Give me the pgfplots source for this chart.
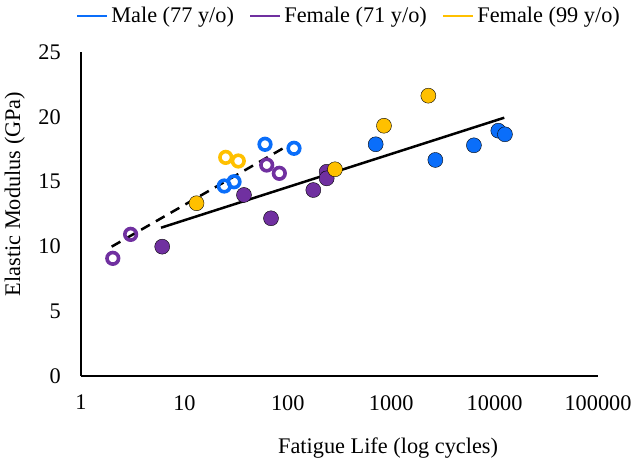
\documentclass[border=0pt]{standalone}
\usepackage{fontspec}
\setmainfont{Liberation Serif}
\usepackage{pgfplots}
\pgfplotsset{compat=1.18}
\definecolor{cblue}{HTML}{0A6EFA}
\definecolor{cpurple}{HTML}{7030A0}
\definecolor{cyellow}{HTML}{FFC000}
\begin{document}
\fontsize{22.3pt}{26pt}\selectfont
\begin{tikzpicture}
\path[use as bounding box] (0,0) rectangle (634pt,461pt);
\begin{axis}[
  at={(81pt,85pt)}, anchor=south west,
  scale only axis, width=517pt, height=324pt,
  xmode=log, xmin=1, xmax=100000, ymin=0, ymax=25,
  axis x line*=bottom, axis y line*=left,
  axis line style={line width=1.4pt, black, -},
  xtick={1,10,100,1000,10000,100000},
  xticklabels={1,10,100,1000,10000,100000},
  ytick={0,5,10,15,20,25},
  major tick length=0pt, minor tick num=0,
  tick style={draw=none},
  /pgf/number format/assume math mode=true,
  xticklabel style={inner sep=0pt, anchor=north, yshift=-19pt},
  yticklabel style={inner sep=0pt, anchor=east, xshift=-20pt},
  xlabel={Fatigue Life (log cycles)},
  ylabel={Elastic Modulus (GPa)},
  xlabel style={at={(axis description cs:0.594,-0.222)}, anchor=center},
  ylabel style={at={(axis description cs:-0.128,0.562)}, anchor=center, rotate=0},
  clip=false,
  legend columns=3,
  legend style={draw=none, fill=none, at={(0.519,1.111)}, anchor=center,
    /tikz/every even column/.append style={column sep=12pt},
    nodes={inner sep=3pt}},
  legend image code/.code={\draw[#1, line width=2.5pt] (0pt,0pt) -- (30pt,0pt);},
]
\addlegendimage{cblue}
\addlegendentry{Male (77 y/o)}
\addlegendimage{cpurple}
\addlegendentry{Female (71 y/o)}
\addlegendimage{cyellow}
\addlegendentry{Female (99 y/o)}

% Male open
\addplot[only marks, mark=o, mark size=5.8pt, mark options={draw=cblue, line width=3.6pt}, forget plot]
  coordinates {(24.3,14.66) (30.2,14.99) (60.2,17.88) (114.8,17.57)};
% Male filled
\addplot[only marks, mark=*, mark size=7.5pt, mark options={draw=none, fill=cblue}, forget plot]
  coordinates {(708,17.88) (2673,16.67) (6310,17.8) (10860,18.93) (12590,18.65)};
% Female 71 open
\addplot[only marks, mark=o, mark size=5.8pt, mark options={draw=cpurple, line width=3.6pt}, forget plot]
  coordinates {(2.03,9.08) (3.02,10.93) (62.5,16.28) (82.8,15.64)};
% Female 71 filled
\addplot[only marks, mark=*, mark size=7.5pt, mark options={draw=none, fill=cpurple}, forget plot]
  coordinates {(6.1,9.98) (37.7,13.97) (68.8,12.17) (176.6,14.35) (237.7,15.76) (237.7,15.25)};
% Female 99 open
\addplot[only marks, mark=o, mark size=5.8pt, mark options={draw=cyellow, line width=3.6pt}, forget plot]
  coordinates {(25.1,16.87) (33.2,16.59)};
% Female 99 filled
\addplot[only marks, mark=*, mark size=7.5pt, mark options={draw=none, fill=cyellow}, forget plot]
  coordinates {(13.1,13.33) (286,15.95) (851,19.31) (2286,21.63)};
% trend lines
\addplot[black, line width=2.5pt, dash pattern=on 10pt off 7pt, forget plot]
  coordinates {(1.98,9.98) (109,17.95)};
\addplot[black, line width=2.5pt, forget plot]
  coordinates {(5.94,11.44) (12400,19.93)};
\end{axis}
\end{tikzpicture}
\end{document}
